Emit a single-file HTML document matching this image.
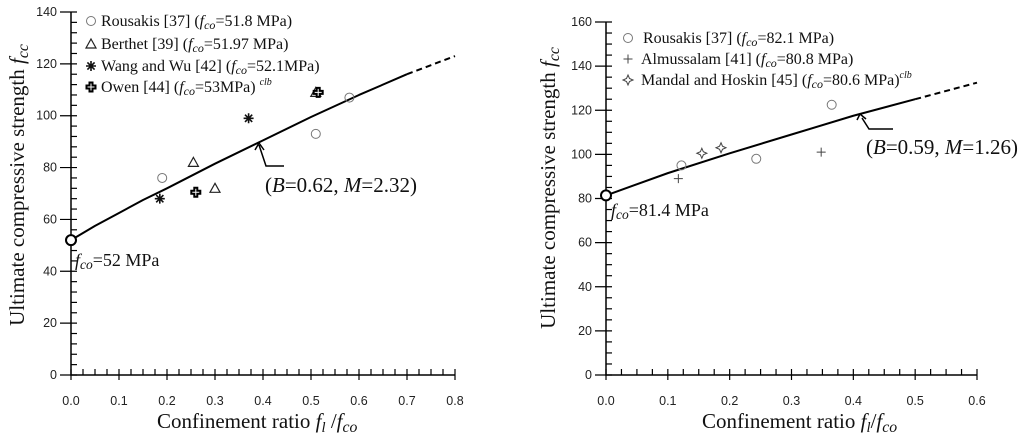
<!DOCTYPE html>
<html><head><meta charset="utf-8">
<style>
html,body{margin:0;padding:0;background:#fff;}
svg{display:block;font-family:"Liberation Serif",serif;}
.tk{font-family:"Liberation Sans",sans-serif;font-size:12.5px;fill:#222;}
</style></head>
<body>
<svg id="chart" width="1024" height="437" viewBox="0 0 1024 437" xmlns="http://www.w3.org/2000/svg"></svg>
<script>
// ---- Left panel data ----
const leftRousX=[0.19,0.51,0.58]; const leftRousY=[76,93,107];
const leftBertX=[0.255,0.30,0.51]; const leftBertY=[82,72,109];
const leftWangX=[0.185,0.37]; const leftWangY=[68,99];
const leftOwenX=[0.26,0.515]; const leftOwenY=[70.5,109];
const leftCurveX=[0,0.05,0.1,0.15,0.2,0.3,0.4,0.5,0.6,0.7]; const leftCurveY=[52,57.5,62.5,67.5,72,81.5,90.5,99.5,108,116];
const leftDashX=[0.7,0.8]; const leftDashY=[116,123];
const leftXTicks=["0.0","0.1","0.2","0.3","0.4","0.5","0.6","0.7","0.8"];
const leftYTicks=["0","20","40","60","80","100","120","140"];
// ---- Right panel data ----
const rightRousX=[0.122,0.243,0.365]; const rightRousY=[95,98,122.5];
const rightAlmX=[0.117,0.348]; const rightAlmY=[89,101];
const rightManX=[0.155,0.186]; const rightManY=[100.5,103];
const rightCurveX=[0,0.1,0.2,0.3,0.4,0.5]; const rightCurveY=[81.4,91.5,100.5,109,117.5,125];
const rightDashX=[0.5,0.6]; const rightDashY=[125,132.5];
const rightXTicks=["0.0","0.1","0.2","0.3","0.4","0.5","0.6"];
const rightYTicks=["0","20","40","60","80","100","120","140","160"];

const svg=document.getElementById('chart');
const NS='http://www.w3.org/2000/svg';
function el(tag,attrs,parent){const e=document.createElementNS(NS,tag);for(const k in attrs)e.setAttribute(k,attrs[k]);(parent||svg).appendChild(e);return e;}

function panel(cfg){
  const g=el('g',{});
  
  
  const sx=v=>cfg.x0+(v-0)/(cfg.xmax)*(cfg.x1-cfg.x0);
  const sy=v=>cfg.y0-(v)/(cfg.ymax)*(cfg.y0-cfg.y1);
  const ax=el('path',{d:`M${cfg.x0},${cfg.y1} V${cfg.y0} H${cfg.x1}`,stroke:'#000','stroke-width':1.5,fill:'none'},g);
  
  
  const nx=cfg.xTicks.length-1;
  for(let i=0;i<=nx*4;i++){
    const v=cfg.xmax*i/(nx*4), x=sx(v);
    const major=i%4===0;
    el('line',{x1:x,x2:x,y1:cfg.y0-6,y2:cfg.y0+(major?5:0),stroke:'#000','stroke-width':1.2},g);
  }
  cfg.xTicks.forEach((t,i)=>{const v=cfg.xmax*i/nx;const tx=el('text',{x:sx(v),y:cfg.y0+30,'text-anchor':'middle',class:'tk'},g);tx.textContent=t;
    
    });
  const ny=cfg.yTicks.length-1;
  for(let i=0;i<=ny*cfg.yMinor;i++){
    const v=cfg.ymax*i/(ny*cfg.yMinor), y=sy(v);
    const major=i%cfg.yMinor===0;
    el('line',{x1:cfg.x0-(major?11:0),x2:cfg.x0+6,y1:y,y2:y,stroke:'#000','stroke-width':1.2},g);
  }
  cfg.yTicks.forEach((t,i)=>{const v=cfg.ymax*i/ny;const tx=el('text',{x:cfg.x0-14,y:sy(v)+4,'text-anchor':'end',class:'tk'},g);tx.textContent=t;
    
    });
  const pts=cfg.cx.map((v,i)=>`${sx(v)},${sy(cfg.cy[i])}`).join(' ');
  const c=el('polyline',{points:pts,fill:'none',stroke:'#000','stroke-width':2,'stroke-linejoin':'round'},g);
  
  
  const dp=cfg.dx.map((v,i)=>`${sx(v)},${sy(cfg.dy[i])}`).join(' ');
  const d=el('polyline',{points:dp,fill:'none',stroke:'#000','stroke-width':2,'stroke-dasharray':'6,4'},g);
  
  
  const sc=el('circle',{cx:sx(cfg.cx[0]),cy:sy(cfg.cy[0]),r:5,fill:'#fff',stroke:'#000','stroke-width':2},g);
  
  
  return {g,sx,sy};
}
function marker(g,type,x,y){
  let m;
  if(type==='circle') m=el('circle',{cx:x,cy:y,r:4.5,fill:'none',stroke:'#777','stroke-width':1},g);
  else if(type==='tri') m=el('path',{d:`M${x},${y-5} L${x+5},${y+4} L${x-5},${y+4} Z`,fill:'none',stroke:'#222','stroke-width':1.2},g);
  else if(type==='star'){m=el('path',{d:`M${x-5},${y}H${x+5}M${x},${y-5}V${y+5}M${x-3.6},${y-3.6}L${x+3.6},${y+3.6}M${x-3.6},${y+3.6}L${x+3.6},${y-3.6}`,stroke:'#111','stroke-width':1.6},g);}
  else if(type==='owen'){m=el('path',{d:`M${x-1.5},${y-4.5}h3v3h3v3h-3v3h-3v-3h-3v-3h3z`,fill:'#fff',stroke:'#000','stroke-width':2},g);}
  else if(type==='plus'){m=el('path',{d:`M${x-4.5},${y}H${x+4.5}M${x},${y-4.5}V${y+4.5}`,stroke:'#444','stroke-width':1},g);}
  else if(type==='diam'){m=el('path',{d:`M${x},${y-5}L${x+1.5},${y-1.5}L${x+5},${y}L${x+1.5},${y+1.5}L${x},${y+5}L${x-1.5},${y+1.5}L${x-5},${y}L${x-1.5},${y-1.5}Z`,fill:'#fff',stroke:'#444','stroke-width':1},g);}
  return m;
}
function series(p,type,xs,ys,name){
  xs.forEach((v,i)=>{const m=marker(p.g,type,p.sx(v),p.sy(ys[i]));
    
    });
}
function html(g,x,y,size,str,name,anchor){
  const t=el('text',{x:x,y:y,'font-size':size,'text-anchor':anchor||'start',fill:'#111'},g);
  t.innerHTML=str;
  
  
  return t;
}
const fco='<tspan font-style="italic">f</tspan><tspan font-style="italic" font-size="0.75em" dy="3">co</tspan><tspan dy="-3">';

// LEFT
const L=panel({name:'left-chart',x0:71,x1:455,y0:375,y1:12,xmax:0.8,ymax:140,xTicks:leftXTicks,yTicks:leftYTicks,yMinor:5,cx:leftCurveX,cy:leftCurveY,dx:leftDashX,dy:leftDashY});
series(L,'circle',leftRousX,leftRousY,'rousakis-point');
series(L,'tri',leftBertX,leftBertY,'berthet-point');
series(L,'star',leftWangX,leftWangY,'wang-wu-point');
series(L,'owen',leftOwenX,leftOwenY,'owen-point');
[['circle',21,'Rousakis [37] ('+fco+'=51.8 MPa)</tspan>'],['tri',44,'Berthet [39] ('+fco+'=51.97 MPa)</tspan>'],['star',66,'Wang and Wu [42] ('+fco+'=52.1MPa)</tspan>'],['owen',87,'Owen [44] ('+fco+'=53MPa)</tspan> <tspan font-style="italic" font-size="10" dy="-7">clb</tspan>']].forEach(r=>{
  const m=marker(L.g,r[0],91,r[1]);
  
  
  html(L.g,101,r[1]+5,16,r[2],'legend-entry');
});
html(L.g,265,192,21,'(<tspan font-style="italic">B</tspan>=0.62, <tspan font-style="italic">M</tspan>=2.32)','fit-annotation');
const la=el('path',{d:'M284,166 H266 L259,145 M255,150 L259,143 L264,150',fill:'none',stroke:'#000','stroke-width':1.5},L.g);


html(L.g,75,266,18,fco+'=52 MPa</tspan>','fco-label');
html(L.g,157,428,21,'Confinement ratio <tspan font-style="italic">f</tspan><tspan font-style="italic" font-size="0.7em" dy="4">l</tspan><tspan dy="-4"> /</tspan><tspan font-style="italic">f</tspan><tspan font-style="italic" font-size="0.75em" dy="4">co</tspan>','x-axis-title','start');
const ly=html(L.g,0,0,21,'Ultimate compressive strength <tspan font-style="italic">f</tspan><tspan font-style="italic" font-size="0.75em" dy="4">cc</tspan>','y-axis-title','middle');
ly.setAttribute('transform','translate(24,185) rotate(-90)');

// RIGHT
const R=panel({name:'right-chart',x0:606,x1:977,y0:375,y1:22,xmax:0.6,ymax:160,xTicks:rightXTicks,yTicks:rightYTicks,yMinor:4,cx:rightCurveX,cy:rightCurveY,dx:rightDashX,dy:rightDashY});
series(R,'circle',rightRousX,rightRousY,'rousakis-point');
series(R,'plus',rightAlmX,rightAlmY,'almussalam-point');
series(R,'diam',rightManX,rightManY,'mandal-hoskin-point');
[['circle',38,'Rousakis [37] ('+fco+'=82.1 MPa)</tspan>',643],['plus',59,'Almussalam [41] ('+fco+'=80.8 MPa)</tspan>',641],['diam',80,'Mandal and Hoskin [45] ('+fco+'=80.6 MPa)</tspan><tspan font-style="italic" font-size="10" dy="-7">clb</tspan>',641]].forEach(r=>{
  const m=marker(R.g,r[0],628,r[1]);
  
  
  html(R.g,r[3],r[1]+5,16,r[2],'legend-entry');
});
html(R.g,866,154,21,'(<tspan font-style="italic">B</tspan>=0.59, <tspan font-style="italic">M</tspan>=1.26)','fit-annotation');
const ra=el('path',{d:'M893,129 H869 L862,118 M857,120 L860,114 L866,119',fill:'none',stroke:'#000','stroke-width':1.5},R.g);


html(R.g,611,216,18,fco+'=81.4 MPa</tspan>','fco-label');
html(R.g,702,428,21,'Confinement ratio <tspan font-style="italic">f</tspan><tspan font-style="italic" font-size="0.7em" dy="4">l</tspan><tspan dy="-4">/</tspan><tspan font-style="italic">f</tspan><tspan font-style="italic" font-size="0.75em" dy="4">co</tspan>','x-axis-title','start');
const ry=html(R.g,0,0,21,'Ultimate compressive strength <tspan font-style="italic">f</tspan><tspan font-style="italic" font-size="0.75em" dy="4">cc</tspan>','y-axis-title','middle');
ry.setAttribute('transform','translate(555,188) rotate(-90)');
</script>
</body></html>
